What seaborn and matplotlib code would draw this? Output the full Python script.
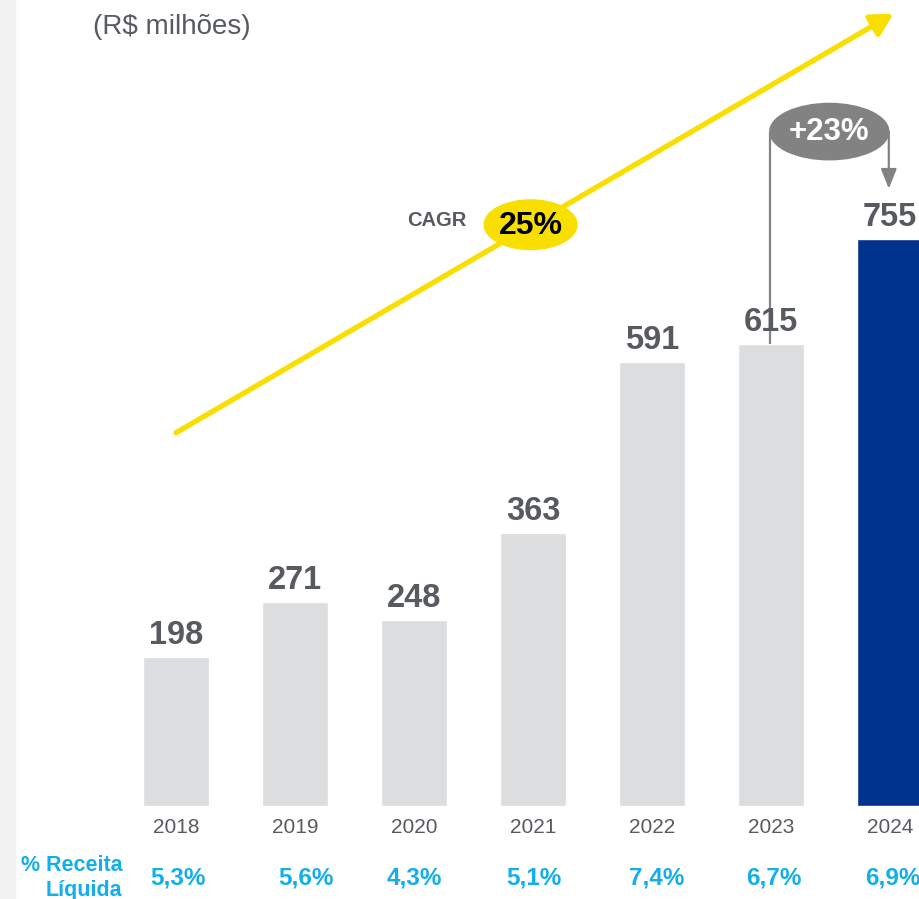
import matplotlib
matplotlib.use("Agg")
import matplotlib.pyplot as plt
from matplotlib.patches import Ellipse, Rectangle
import seaborn as sns
import pandas as pd

# Data
years = ["2018", "2019", "2020", "2021", "2022", "2023", "2024"]
values = [198, 271, 248, 363, 591, 615, 755]
pct_receita = ["5,3%", "5,6%", "4,3%", "5,1%", "7,4%", "6,7%", "6,9%"]
bar_colors = ["#dcdddf"] * 6 + ["#00338d"]
cagr_text = "25%"
growth_text = "+23%"

sns.set_theme(style="white")
plt.rcParams["font.family"] = ["Liberation Sans", "DejaVu Sans"]

GRAY_TXT = "#575b60"
CYAN = "#14aeea"
YELLOW = "#f9df00"
ARROW_GRAY = "#828282"

df = pd.DataFrame({"year": years, "value": values})

fig = plt.figure(figsize=(9.2, 8.99), dpi=100)
ax = fig.add_axes([0, 0, 1, 1])
fig.add_artist(Rectangle((0, 0), 15 / 920, 1, transform=fig.transFigure,
                         color="#f2f2f2", zorder=0))

sns.barplot(data=df, x="year", y="value", hue="year", palette=bar_colors,
            width=0.555, legend=False, ax=ax, saturation=1)

# pixel mapping: bar centre 0 at x=176px, 119px per bar; baseline at 806px, 0.751px per unit
px_per_unit = 0.751
ax.set_xlim(-176 / 119, (920 - 176) / 119)
ax.set_ylim(-93 / px_per_unit, (899 - 93) / px_per_unit)
ax.axis("off")

pct_shift = [0.02, 0.09, 0.0, 0.01, 0.04, 0.02, 0.02]

# value labels
for i, v in enumerate(values):
    ax.text(i, v + 6 / px_per_unit, str(v), ha="center", va="bottom",
            fontsize=23.5, fontweight="bold", color=GRAY_TXT)
    ax.text(i, -28, years[i], ha="center", va="center", fontsize=15,
            color=GRAY_TXT)
    ax.text(i + pct_shift[i], -96, pct_receita[i], ha="center", va="center",
            fontsize=17.5, fontweight="bold", color=CYAN)

ax.text(-0.45, -96, "% Receita\nLíquida", ha="right", va="center",
        fontsize=15.5, fontweight="bold", color=CYAN, linespacing=1.2)

fig.text(93 / 920, 1 - 27 / 899, "(R$ milhões)", ha="left", va="center",
         fontsize=20, color=GRAY_TXT)

# CAGR arrow
ax.annotate("", xy=(6.03, 1055), xytext=(0.0, 497),
            arrowprops=dict(arrowstyle="-|>,head_length=1.1,head_width=0.6",
                            color=YELLOW, lw=3.8, shrinkA=0, shrinkB=0))
ax.add_patch(Ellipse((2.98, 774), 0.78, 66, color=YELLOW, zorder=5))
ax.text(2.98, 772, cagr_text, ha="center", va="center", fontsize=23,
        fontweight="bold", color="black", zorder=6)
ax.text(2.19, 779, "CAGR", ha="center", va="center", fontsize=14.5,
        fontweight="bold", color=GRAY_TXT)

# growth bracket 2023 -> 2024
top_y = 898
ax.plot([4.99, 4.99], [values[5], top_y], color=ARROW_GRAY, lw=1.6,
        solid_capstyle="butt")
ax.annotate("", xy=(5.99, 822), xytext=(5.99, top_y),
            arrowprops=dict(arrowstyle="-|>,head_length=1.0,head_width=0.4",
                            color=ARROW_GRAY, lw=1.6, shrinkA=0, shrinkB=0))
ax.add_patch(Ellipse((5.49, top_y), 1.0, 75, color=ARROW_GRAY, zorder=5))
ax.text(5.49, top_y - 1, growth_text, ha="center", va="center", fontsize=22.5,
        fontweight="bold", color="white", zorder=6)

fig.savefig("out.png", dpi=100)
